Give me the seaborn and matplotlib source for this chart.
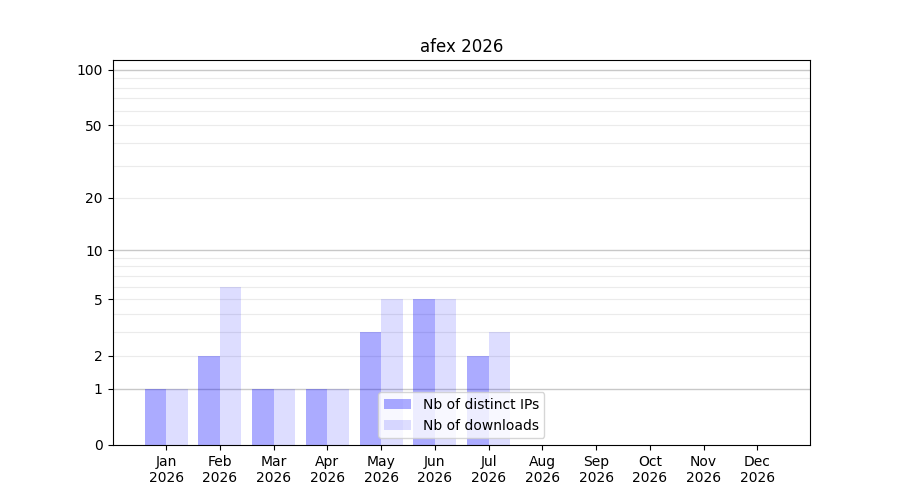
import numpy as np
import pandas as pd
import matplotlib
matplotlib.use("Agg")
import matplotlib.pyplot as plt
from matplotlib.patches import Patch
import seaborn as sns

# Monthly stats
months = ["Jan", "Feb", "Mar", "Apr", "May", "Jun",
          "Jul", "Aug", "Sep", "Oct", "Nov", "Dec"]
year = 2026
distinct_ips = [1, 2, 1, 1, 3, 5, 2, 0, 0, 0, 0, 0]
downloads = [1, 6, 1, 1, 5, 5, 3, 0, 0, 0, 0, 0]
series_names = ["Nb of distinct IPs", "Nb of downloads"]

labels = [f"{m}\n{year}" for m in months]
df = pd.DataFrame({
    "month": labels * 2,
    "count": distinct_ips + downloads,
    "series": [series_names[0]] * 12 + [series_names[1]] * 12,
})

fig, ax = plt.subplots(figsize=(9, 5), dpi=100)

# log(1+x) scale so zero months still sit on the axis
ax.set_yscale("function", functions=(lambda v: np.log10(1 + np.clip(v, 0, None)),
                                     lambda v: 10 ** v - 1))

alphas = [0.33, 0.135]
sns.barplot(data=df, x="month", y="count", hue="series",
            palette=["blue", "blue"], saturation=1, width=0.8,
            ax=ax, zorder=2, legend=False)
for cont, a in zip(ax.containers, alphas):
    for p in cont:
        p.set_alpha(a)
        p.set_edgecolor("none")

ax.set_ylim(0, 113)
ax.set_xlim(-1.0, 11.98)
ax.set_yticks([0, 1, 2, 5, 10, 20, 50, 100])
ax.set_yticklabels(["0", "1", "2", "5", "10", "20", "50", "100"])
ax.set_yticks([3, 4, 6, 7, 8, 9, 30, 40, 60, 70, 80, 90], minor=True)
ax.tick_params(axis="y", which="minor", length=0)

ax.set_axisbelow(True)
for v in [2, 5, 20, 50]:
    ax.axhline(v, color="#ebebeb", lw=0.8, zorder=0)
ax.grid(axis="y", which="minor", color="#ebebeb", lw=0.8)
for v in [1, 10, 100]:
    ax.axhline(v, color="#c8c8c8", lw=1, zorder=0)

ax.set_xlabel("")
ax.set_ylabel("")
ax.set_title(f"afex {year}")
handles = [Patch(facecolor="blue", alpha=a, label=n) for n, a in zip(series_names, alphas)]
ax.legend(handles=handles, loc="lower center")

plt.savefig("out.png")
plt.close()
